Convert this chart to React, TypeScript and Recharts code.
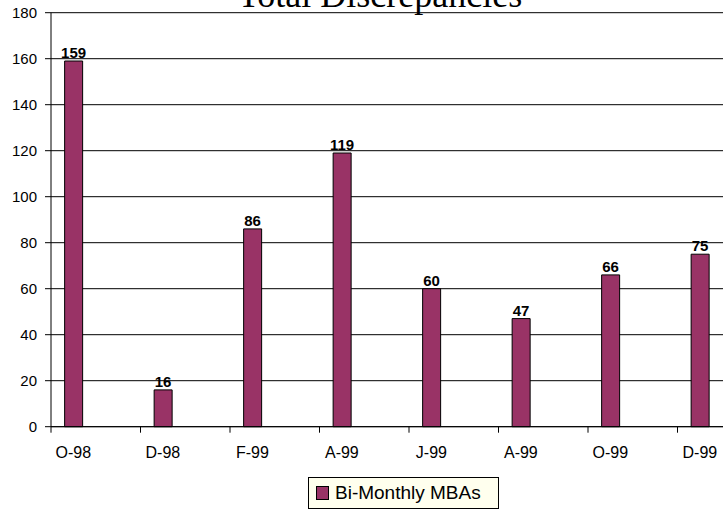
import React from 'react';
import {
  BarChart,
  Bar,
  XAxis,
  YAxis,
  CartesianGrid,
  LabelList
} from 'recharts';

// months since Oct-98 (date axis, one slot per month)
const monthIndex = [0, 2, 4, 6, 8, 10, 12, 14];
const periodLabels = ['O-98', 'D-98', 'F-99', 'A-99', 'J-99', 'A-99', 'O-99', 'D-99'];
const mbaValues = [159, 16, 86, 119, 60, 47, 66, 75];
const yTicks = [0, 20, 40, 60, 80, 100, 120, 140, 160, 180];
const seriesName = 'Bi-Monthly MBAs';
const chartTitle = 'Total Discrepancies';

const BAR_COLOR = '#993366';

const chartData = monthIndex.map((m, i) => ({
  pos: m + 0.5,
  label: periodLabels[i],
  value: mbaValues[i]
}));

const boundaryTicks = [...monthIndex, 16];
const labelTicks = chartData.map(d => d.pos);
const labelByPos: Record<string, string> = {};
chartData.forEach(d => { labelByPos[String(d.pos)] = d.label; });

const App: React.FC = () => {
  return (
    <div style={{ position: 'absolute', left: 0, top: 0, width: 723, height: 510, overflow: 'hidden', background: '#fff' }}>
      <div
        style={{
          position: 'absolute',
          left: 0,
          top: -23,
          width: 760,
          textAlign: 'center',
          fontFamily: '"Liberation Serif", "Times New Roman", serif',
          fontSize: 36,
          lineHeight: '36px',
          color: '#000',
          zIndex: 2
        }}
      >
        {chartTitle}
      </div>
      <BarChart
        width={780}
        height={470}
        data={chartData}
        margin={{ top: 12.7, right: 13, left: 0, bottom: 5.3 }}
        style={{ fontFamily: 'Arial, "Liberation Sans", sans-serif' }}
      >
        <CartesianGrid vertical={false} stroke="#000" xAxisId="a0" />
        <XAxis
          xAxisId="a0"
          type="number"
          dataKey="pos"
          domain={[0, 16]}
          allowDataOverflow
          ticks={boundaryTicks}
          tickFormatter={() => ''}
          tickSize={6}
          height={8}
          stroke="#000"
          tickLine={{ stroke: '#000' }}
          axisLine={{ stroke: '#000' }}
        />
        <XAxis
          xAxisId="a1"
          type="number"
          dataKey="pos"
          domain={[0, 16]}
          allowDataOverflow
          ticks={labelTicks}
          tickFormatter={(v: number) => labelByPos[String(v)] ?? ''}
          tickLine={false}
          axisLine={false}
          tickSize={0}
          tickMargin={12}
          height={30}
          tick={{ fill: '#000', fontSize: 16 }}
        />
        <YAxis
          domain={[0, 180]}
          ticks={yTicks}
          width={51}
          tickSize={6}
          tickMargin={8}
          interval={0}
          stroke="#000"
          tick={{ fill: '#000', fontSize: 15 }}
        />
        <Bar
          xAxisId="a0"
          dataKey="value"
          name={seriesName}
          fill={BAR_COLOR}
          stroke="#000"
          strokeWidth={1}
          barSize={18}
          isAnimationActive={false}
        >
          <LabelList
            dataKey="value"
            position="top"
            offset={3}
            style={{ fill: '#000', fontSize: 15, fontWeight: 'bold' }}
          />
        </Bar>
      </BarChart>
      <div
        style={{
          position: 'absolute',
          left: 308,
          top: 477,
          width: 189,
          height: 30,
          border: '1px solid #000',
          background: '#ffffee',
          display: 'flex',
          alignItems: 'center',
          fontFamily: 'Arial, "Liberation Sans", sans-serif',
          fontSize: 19,
          color: '#000'
        }}
      >
        <span
          style={{
            display: 'inline-block',
            width: 11,
            height: 12,
            marginLeft: 7,
            marginRight: 6,
            background: BAR_COLOR,
            border: '1px solid #000'
          }}
        />
        <span style={{ whiteSpace: 'nowrap' }}>{seriesName}</span>
      </div>
    </div>
  );
};

export default App;
